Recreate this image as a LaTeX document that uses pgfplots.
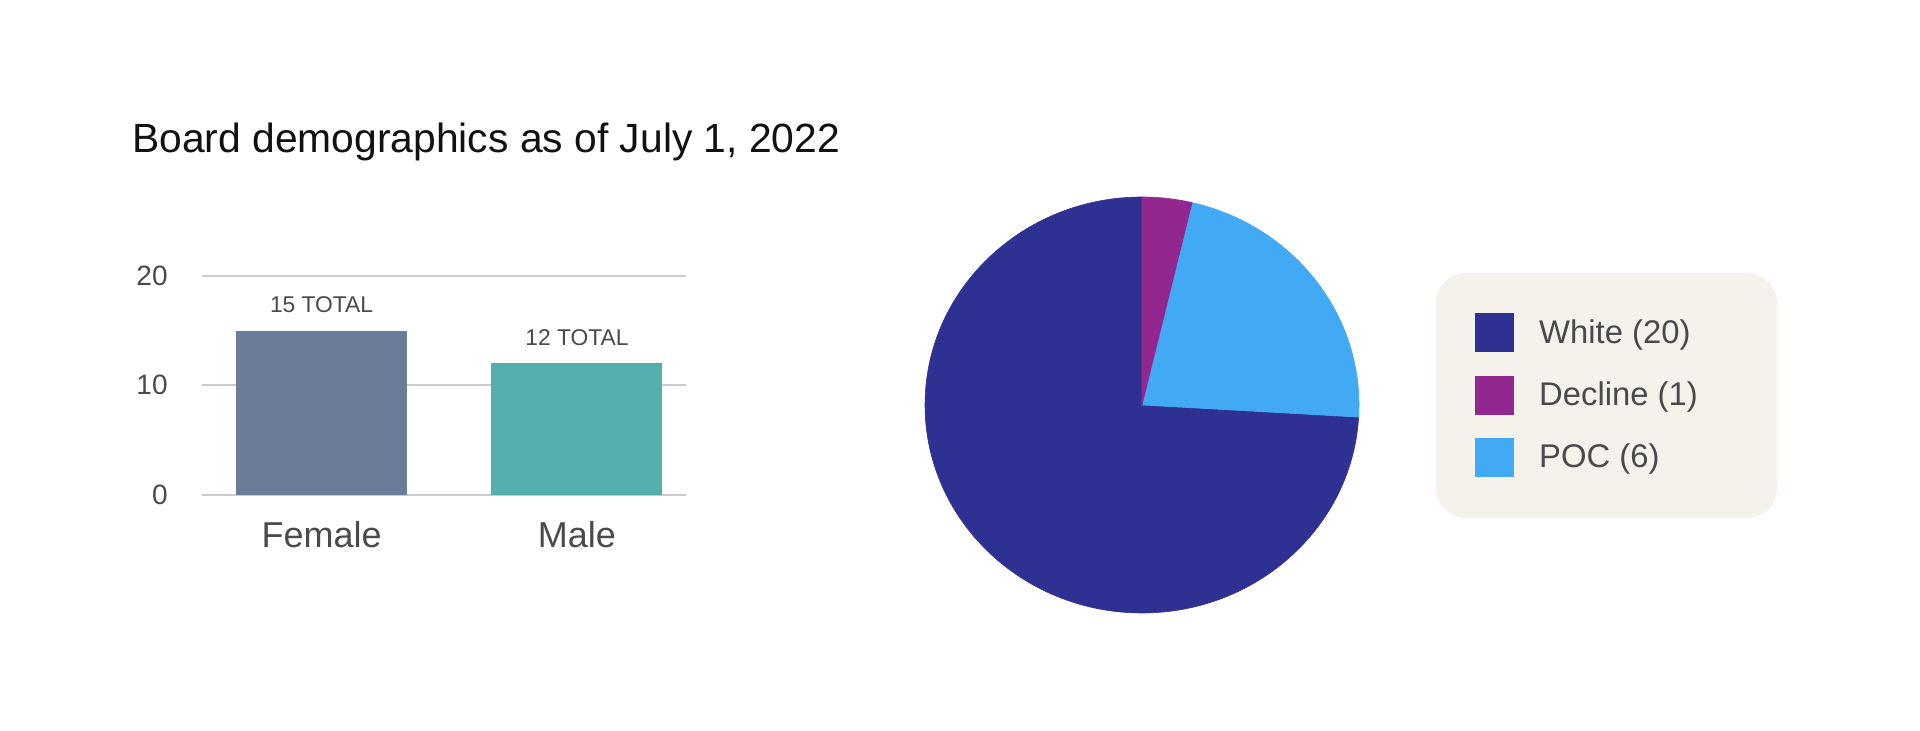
\documentclass[border=0pt]{standalone}
\usepackage{pgfplots}
\pgfplotsset{compat=1.18}
\usepackage{pgfplotstable}
\usepackage{fontspec}
\setmainfont{Liberation Sans}

\definecolor{titleblack}{HTML}{111111}
\definecolor{labelgray}{HTML}{4A4A4A}
\definecolor{gridgray}{HTML}{CCCCCC}
\definecolor{femalebar}{HTML}{6B7B9A}
\definecolor{malebar}{HTML}{54AEAD}
\definecolor{piewhite}{HTML}{2E3192}
\definecolor{piedecline}{HTML}{92278F}
\definecolor{piepoc}{HTML}{42A9F5}
\definecolor{legendbg}{HTML}{F5F2EC}

% board members by race
\pgfplotstableread{
group value
White 20
Decline 1
POC 6
}\racetable

\begin{document}
\begin{tikzpicture}
% 1 px of the reference = 0.5pt
\path[fill=white, use as bounding box] (0,0) rectangle (960pt,365.5pt);

\node[anchor=base west, inner sep=0pt, text=titleblack,
      font=\fontsize{20.4}{24}\selectfont] at (66pt,289pt)
  {Board demographics as of July 1, 2022};

% legend background
\fill[legendbg, rounded corners=15pt] (718pt,106.5pt) rectangle (888.5pt,229pt);

\begin{axis}[
    at={(101pt,118.15pt)}, anchor=south west,
    scale only axis, width=242pt, height=109.35pt,
    xmin=-0.468, xmax=1.427,
    ymin=0, ymax=20,
    ybar, bar width=85.5pt, bar shift=0pt,
    clip=false,
    axis line style={draw=none},
    major tick style={draw=none},
    ymajorgrids=true,
    grid style={line width=1pt, color=gridgray},
    ytick={0,10,20},
    xtick={0,1},
    xticklabels={Female, Male},
    /pgf/number format/assume math mode=true,
    yticklabel style={anchor=east, inner sep=0pt, xshift=-17pt,
        font=\fontsize{14}{16}\selectfont, text=labelgray},
    xticklabel style={anchor=base, inner sep=0pt, yshift=-21.9pt,
        font=\fontsize{18}{21}\selectfont, text=labelgray},
    nodes near coords={\pgfmathprintnumber{\pgfplotspointmeta}~TOTAL},
    every node near coord/.append style={anchor=base, inner sep=0pt,
        yshift=9pt, font=\fontsize{11.4}{13}\selectfont, text=labelgray},
]
\addplot[fill=femalebar, draw=none] coordinates {(0,15)};
\addplot[fill=malebar, draw=none] coordinates {(1,12)};
\end{axis}

\begin{axis}[
    at={(571pt,163pt)}, anchor=center,
    hide axis, x=0.5pt, y=0.5pt,
    xmin=-217, xmax=217, ymin=-208, ymax=208,
    clip=false,
    legend cell align=left,
    legend style={at={(1.2673,0.7212)}, anchor=north west,
        draw=none, fill=none, inner sep=0pt, row sep=11.75pt,
        font=\fontsize{16.4}{19}\selectfont, text=labelgray,
        nodes={inner sep=0pt},
        /tikz/every odd column/.style={column sep=12.5pt}},
]
\addlegendimage{legend image code/.code={\fill[piewhite] (0pt,-9.5pt) rectangle (19pt,9.5pt);}}
\addlegendentry{White (20)}
\addlegendimage{legend image code/.code={\fill[piedecline] (0pt,-9.5pt) rectangle (19pt,9.5pt);}}
\addlegendentry{Decline (1)}
\addlegendimage{legend image code/.code={\fill[piepoc] (0pt,-9.5pt) rectangle (19pt,9.5pt);}}
\addlegendentry{POC (6)}

\pgfplotsextra{%
  \pgfplotstablegetelem{0}{value}\of\racetable\let\vW\pgfplotsretval
  \pgfplotstablegetelem{1}{value}\of\racetable\let\vD\pgfplotsretval
  \pgfplotstablegetelem{2}{value}\of\racetable\let\vP\pgfplotsretval
  \pgfmathsetmacro\vT{\vW+\vD+\vP}%
  % counterclockwise from the top: White, POC, Decline
  \pgfmathsetmacro\aA{90}%
  \pgfmathsetmacro\aB{\aA+360*\vW/\vT}%
  \pgfmathsetmacro\aC{\aB+360*\vP/\vT}%
  \pgfmathsetmacro\aD{\aC+360*\vD/\vT}%
  \pgfmathsetmacro\xA{217*cos(\aA)}\pgfmathsetmacro\yA{208*sin(\aA)}%
  \pgfmathsetmacro\xB{217*cos(\aB)}\pgfmathsetmacro\yB{208*sin(\aB)}%
  \pgfmathsetmacro\xC{217*cos(\aC)}\pgfmathsetmacro\yC{208*sin(\aC)}%
  \filldraw[piewhite, line width=0.3pt] (axis cs:0,0) -- (axis cs:\xA,\yA)
    arc[start angle=\aA, end angle=\aB, x radius=108.5pt, y radius=104pt] -- cycle;
  \filldraw[piepoc, line width=0.3pt] (axis cs:0,0) -- (axis cs:\xB,\yB)
    arc[start angle=\aB, end angle=\aC, x radius=108.5pt, y radius=104pt] -- cycle;
  \filldraw[piedecline, line width=0.3pt] (axis cs:0,0) -- (axis cs:\xC,\yC)
    arc[start angle=\aC, end angle=\aD, x radius=108.5pt, y radius=104pt] -- cycle;
}
\end{axis}
\end{tikzpicture}
\end{document}
